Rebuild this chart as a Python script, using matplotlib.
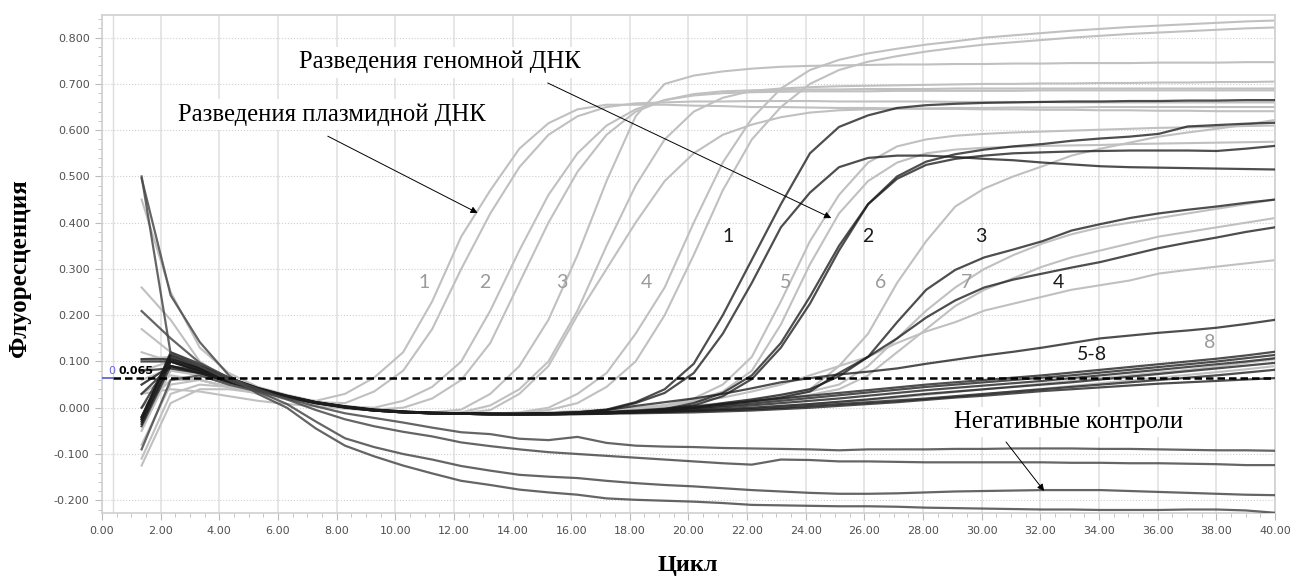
import numpy as np
import matplotlib.pyplot as plt
from matplotlib.ticker import MultipleLocator, FormatStrFormatter

# циклы (положение точек на оси X)
cycles = np.linspace(1.35, 40, 40)

# разведения плазмидной ДНК (светло-серые кривые)
L1 = [0.26,0.19,0.10,0.06,0.035,0.02,0.015,0.03,0.065,0.12,
      0.23,0.37,0.47,0.56,0.615,0.645,0.655,0.655,0.655,0.653,
      0.652,0.65,0.65,0.649,0.648,0.648,0.647,0.646,0.646,0.645,
      0.645,0.644,0.644,0.643,0.643,0.642,0.642,0.641,0.641,0.641]
L2 = [0.17,0.12,0.09,0.06,0.04,0.025,0.012,0.01,0.035,0.08,
      0.17,0.30,0.42,0.52,0.59,0.63,0.65,0.658,0.66,0.662,
      0.662,0.663,0.663,0.663,0.662,0.662,0.662,0.662,0.661,0.661,
      0.661,0.661,0.66,0.66,0.66,0.66,0.66,0.66,0.66,0.66]
L3 = [0.105,0.11,0.085,0.06,0.04,0.025,0.012,0.003,0.0,0.015,
      0.045,0.10,0.21,0.34,0.46,0.55,0.61,0.645,0.665,0.675,
      0.68,0.682,0.683,0.684,0.684,0.684,0.685,0.685,0.685,0.685,
      0.685,0.686,0.686,0.686,0.686,0.686,0.686,0.686,0.686,0.686]
L4 = [0.08,0.10,0.08,0.06,0.04,0.025,0.012,0.003,-0.004,0.0,
      0.02,0.06,0.14,0.27,0.40,0.51,0.59,0.64,0.665,0.678,
      0.684,0.686,0.687,0.688,0.688,0.689,0.689,0.689,0.69,0.69,
      0.69,0.69,0.69,0.69,0.69,0.69,0.69,0.69,0.69,0.69]
L5 = [-0.02,0.11,0.08,0.055,0.035,0.022,0.01,0.0,-0.006,-0.01,
      -0.01,-0.004,0.03,0.09,0.19,0.33,0.49,0.63,0.70,0.718,
      0.727,0.733,0.737,0.739,0.74,0.741,0.742,0.742,0.743,0.743,
      0.744,0.744,0.745,0.745,0.745,0.746,0.746,0.746,0.747,0.747]
L6 = [0.05,0.09,0.07,0.05,0.035,0.02,0.01,0.0,-0.006,-0.01,
      -0.012,-0.01,0.005,0.04,0.10,0.21,0.35,0.48,0.58,0.64,
      0.67,0.685,0.69,0.693,0.695,0.696,0.697,0.698,0.699,0.70,
      0.70,0.701,0.701,0.702,0.702,0.703,0.703,0.704,0.704,0.705]
L7 = [-0.03,0.10,0.075,0.055,0.035,0.022,0.01,0.0,-0.006,-0.01,
      -0.012,-0.012,-0.005,0.03,0.09,0.20,0.30,0.40,0.49,0.55,
      0.59,0.612,0.628,0.638,0.643,0.645,0.646,0.647,0.648,0.648,
      0.649,0.649,0.649,0.65,0.65,0.65,0.65,0.65,0.65,0.65]
L8 = [0.03,0.07,0.06,0.045,0.03,0.018,0.008,0.0,-0.006,-0.01,
      -0.012,-0.013,-0.013,-0.01,0.0,0.03,0.075,0.16,0.26,0.40,
      0.53,0.625,0.69,0.73,0.752,0.766,0.776,0.785,0.792,0.80,
      0.805,0.81,0.815,0.819,0.823,0.826,0.829,0.832,0.835,0.837]
L9 = [-0.05,0.08,0.07,0.05,0.035,0.02,0.01,0.0,-0.006,-0.01,
      -0.012,-0.013,-0.013,-0.012,-0.005,0.01,0.045,0.10,0.20,0.33,
      0.47,0.58,0.65,0.70,0.73,0.748,0.76,0.77,0.778,0.785,
      0.79,0.795,0.80,0.804,0.808,0.811,0.814,0.817,0.82,0.822]
L10 = [-0.11,0.03,0.05,0.045,0.035,0.022,0.01,0.0,-0.006,-0.01,
       -0.012,-0.013,-0.014,-0.014,-0.013,-0.012,-0.01,-0.005,0.005,0.02,
       0.05,0.11,0.23,0.36,0.46,0.53,0.565,0.58,0.588,0.592,
       0.595,0.597,0.599,0.601,0.603,0.605,0.606,0.607,0.609,0.61]
L11 = [-0.125,0.01,0.04,0.04,0.032,0.02,0.01,0.0,-0.006,-0.01,
       -0.012,-0.013,-0.014,-0.014,-0.013,-0.012,-0.01,-0.006,0.002,0.015,
       0.035,0.08,0.18,0.31,0.42,0.49,0.53,0.55,0.558,0.562,
       0.564,0.566,0.567,0.568,0.57,0.571,0.572,0.573,0.574,0.575]
L12 = [0.45,0.25,0.13,0.075,0.045,0.028,0.014,0.004,-0.003,-0.008,
       -0.011,-0.012,-0.013,-0.013,-0.012,-0.01,-0.007,-0.004,0.0,0.005,
       0.01,0.017,0.025,0.04,0.09,0.16,0.27,0.36,0.435,0.474,
       0.50,0.522,0.545,0.56,0.573,0.586,0.595,0.603,0.612,0.622]
L13 = [0.12,0.10,0.08,0.055,0.037,0.022,0.01,0.001,-0.005,-0.009,
       -0.011,-0.012,-0.013,-0.013,-0.012,-0.011,-0.009,-0.006,-0.002,0.003,
       0.009,0.016,0.024,0.035,0.05,0.09,0.15,0.21,0.26,0.30,
       0.33,0.355,0.375,0.39,0.40,0.41,0.42,0.43,0.44,0.45]
L14 = [0.06,0.085,0.07,0.052,0.035,0.021,0.01,0.0,-0.006,-0.01,
       -0.012,-0.013,-0.013,-0.013,-0.012,-0.011,-0.009,-0.006,-0.003,0.001,
       0.006,0.012,0.019,0.028,0.04,0.07,0.12,0.17,0.22,0.255,
       0.28,0.305,0.325,0.34,0.355,0.37,0.38,0.39,0.40,0.41]
L15 = [0.03,0.04,0.035,0.025,0.015,0.008,0.003,-0.002,-0.006,-0.01,
       -0.012,-0.013,-0.013,-0.012,-0.01,-0.007,-0.004,0.0,0.006,0.013,
       0.022,0.035,0.05,0.07,0.09,0.11,0.14,0.165,0.185,0.21,
       0.225,0.24,0.255,0.265,0.275,0.29,0.298,0.305,0.312,0.319]
L16 = [-0.08,0.05,0.06,0.045,0.032,0.02,0.009,0.0,-0.006,-0.01,
       -0.012,-0.013,-0.014,-0.014,-0.013,-0.012,-0.01,-0.008,-0.006,-0.004,
       -0.002,0.0,0.004,0.008,0.012,0.017,0.022,0.028,0.034,0.04,
       0.046,0.052,0.058,0.064,0.07,0.076,0.082,0.089,0.097,0.105]
L17 = [0.0,0.06,0.06,0.045,0.032,0.02,0.009,0.0,-0.006,-0.01,
       -0.012,-0.013,-0.014,-0.015,-0.015,-0.014,-0.012,-0.01,-0.009,-0.007,
       -0.005,-0.003,0.0,0.003,0.007,0.01,0.014,0.019,0.024,0.029,
       0.035,0.041,0.047,0.053,0.059,0.065,0.071,0.077,0.083,0.09]
plasmid = [L1, L2, L3, L4, L5, L6, L7, L8, L9, L10, L11, L12, L13, L14, L15, L16, L17]

# разведения геномной ДНК (тёмные кривые)
G1a = [-0.02,0.11,0.085,0.06,0.04,0.025,0.012,0.003,-0.004,-0.008,
       -0.011,-0.012,-0.013,-0.013,-0.012,-0.01,-0.004,0.012,0.04,0.095,
       0.20,0.32,0.44,0.55,0.607,0.632,0.648,0.654,0.657,0.659,
       0.66,0.661,0.662,0.662,0.663,0.663,0.664,0.664,0.665,0.665]
G1b = [-0.03,0.10,0.08,0.06,0.04,0.024,0.011,0.002,-0.005,-0.009,
       -0.011,-0.012,-0.013,-0.013,-0.012,-0.01,-0.005,0.01,0.032,0.075,
       0.16,0.27,0.39,0.465,0.52,0.54,0.545,0.545,0.542,0.538,
       0.535,0.53,0.526,0.522,0.52,0.519,0.518,0.517,0.516,0.515]
G2a = [-0.025,0.12,0.095,0.065,0.042,0.026,0.012,0.003,-0.004,-0.008,
       -0.011,-0.012,-0.013,-0.014,-0.014,-0.013,-0.012,-0.01,-0.004,0.005,
       0.025,0.062,0.13,0.225,0.34,0.44,0.50,0.532,0.548,0.558,
       0.565,0.57,0.577,0.582,0.586,0.592,0.608,0.611,0.614,0.616]
G2b = [-0.04,0.09,0.075,0.055,0.038,0.024,0.011,0.002,-0.005,-0.009,
       -0.012,-0.013,-0.014,-0.014,-0.014,-0.013,-0.012,-0.009,-0.003,0.01,
       0.032,0.07,0.14,0.24,0.35,0.44,0.495,0.525,0.538,0.545,
       0.55,0.552,0.554,0.555,0.556,0.556,0.556,0.555,0.56,0.566]
G3 = [0.1,0.1,0.08,0.058,0.038,0.023,0.01,0.001,-0.005,-0.009,
      -0.012,-0.013,-0.014,-0.014,-0.013,-0.012,-0.01,-0.008,-0.004,0.0,
      0.01,0.018,0.028,0.04,0.068,0.11,0.185,0.255,0.298,0.325,
      0.342,0.36,0.383,0.397,0.41,0.42,0.428,0.435,0.443,0.45]
G4 = [0.05,0.09,0.075,0.055,0.037,0.022,0.01,0.0,-0.006,-0.01,
      -0.012,-0.013,-0.014,-0.014,-0.013,-0.012,-0.01,-0.008,-0.004,0.0,
      0.007,0.014,0.022,0.035,0.075,0.11,0.15,0.195,0.232,0.26,
      0.277,0.29,0.303,0.315,0.33,0.345,0.357,0.368,0.38,0.39]
G5 = [0.105,0.105,0.085,0.06,0.04,0.024,0.011,0.002,-0.005,-0.009,
      -0.011,-0.012,-0.013,-0.013,-0.012,-0.01,-0.005,0.004,0.012,0.02,
      0.03,0.042,0.055,0.064,0.072,0.078,0.085,0.095,0.104,0.113,
      0.121,0.13,0.14,0.15,0.156,0.162,0.167,0.173,0.181,0.19]
G6 = [-0.025,0.115,0.09,0.065,0.042,0.025,0.012,0.002,-0.005,-0.009,
      -0.011,-0.012,-0.013,-0.013,-0.012,-0.011,-0.009,-0.006,-0.002,0.003,
      0.008,0.014,0.02,0.026,0.032,0.038,0.044,0.05,0.055,0.06,
      0.065,0.07,0.076,0.082,0.088,0.094,0.10,0.106,0.113,0.121]
G7 = [0.0,0.105,0.085,0.06,0.04,0.024,0.011,0.002,-0.005,-0.009,
      -0.011,-0.012,-0.013,-0.013,-0.012,-0.011,-0.01,-0.008,-0.005,-0.001,
      0.004,0.009,0.015,0.021,0.027,0.033,0.039,0.045,0.05,0.055,
      0.06,0.065,0.07,0.076,0.082,0.088,0.094,0.10,0.107,0.114]
G8 = [-0.035,0.10,0.08,0.058,0.038,0.023,0.01,0.001,-0.006,-0.01,
      -0.012,-0.013,-0.014,-0.014,-0.013,-0.012,-0.01,-0.008,-0.006,-0.003,
      0.001,0.005,0.01,0.015,0.02,0.026,0.032,0.038,0.043,0.048,
      0.053,0.058,0.064,0.07,0.076,0.082,0.088,0.094,0.10,0.107]
G9 = [0.03,0.09,0.08,0.06,0.04,0.024,0.011,0.001,-0.006,-0.01,
      -0.012,-0.013,-0.014,-0.014,-0.014,-0.013,-0.011,-0.01,-0.008,-0.006,
      -0.003,0.0,0.004,0.008,0.013,0.018,0.024,0.03,0.035,0.04,
      0.045,0.05,0.055,0.061,0.067,0.073,0.079,0.085,0.091,0.097]
G10 = [-0.02,0.115,0.09,0.065,0.043,0.026,0.012,0.002,-0.005,-0.009,
       -0.012,-0.013,-0.014,-0.014,-0.014,-0.013,-0.012,-0.01,-0.009,-0.007,
       -0.005,-0.003,0.0,0.004,0.008,0.012,0.016,0.02,0.025,0.03,
       0.035,0.04,0.045,0.05,0.055,0.06,0.065,0.07,0.076,0.082]
G11 = [0.08,0.085,0.075,0.06,0.04,0.024,0.011,0.001,-0.006,-0.01,
       -0.012,-0.013,-0.014,-0.015,-0.015,-0.014,-0.013,-0.012,-0.011,-0.01,
       -0.008,-0.006,-0.003,0.0,0.004,0.008,0.012,0.017,0.022,0.026,
       0.031,0.036,0.04,0.044,0.048,0.052,0.055,0.058,0.061,0.064]
genomic = [G1a, G1b, G2a, G2b, G3, G4, G5, G6, G7, G8, G9, G10, G11]

# негативные контроли
N1 = [-0.09,0.06,0.07,0.05,0.035,0.02,0.003,-0.012,-0.022,-0.032,
      -0.043,-0.053,-0.057,-0.067,-0.07,-0.063,-0.076,-0.082,-0.084,-0.085,
      -0.087,-0.088,-0.089,-0.09,-0.092,-0.09,-0.09,-0.09,-0.089,-0.089,
      -0.088,-0.088,-0.088,-0.089,-0.089,-0.09,-0.091,-0.092,-0.092,-0.093]
N2 = [0.209,0.15,0.097,0.065,0.04,0.018,-0.005,-0.025,-0.04,-0.052,
      -0.062,-0.075,-0.083,-0.09,-0.096,-0.10,-0.104,-0.108,-0.112,-0.116,
      -0.12,-0.123,-0.112,-0.113,-0.116,-0.116,-0.117,-0.118,-0.118,-0.118,
      -0.118,-0.118,-0.119,-0.119,-0.12,-0.12,-0.121,-0.122,-0.124,-0.124]
N3 = [0.5,0.117,0.09,0.06,0.035,0.008,-0.03,-0.066,-0.085,-0.10,
      -0.112,-0.126,-0.136,-0.145,-0.149,-0.152,-0.158,-0.163,-0.167,-0.17,
      -0.174,-0.178,-0.181,-0.184,-0.186,-0.186,-0.185,-0.183,-0.181,-0.18,
      -0.179,-0.178,-0.178,-0.178,-0.18,-0.182,-0.184,-0.186,-0.188,-0.189]
N4 = [0.496,0.243,0.142,0.07,0.03,0.0,-0.045,-0.082,-0.105,-0.125,
      -0.142,-0.158,-0.167,-0.177,-0.183,-0.188,-0.196,-0.199,-0.201,-0.203,
      -0.206,-0.21,-0.211,-0.212,-0.213,-0.213,-0.214,-0.216,-0.217,-0.218,
      -0.219,-0.22,-0.22,-0.221,-0.221,-0.221,-0.22,-0.22,-0.222,-0.227]
negatives = [N1, N2, N3, N4]

threshold = 0.065

# подписи номеров разведений
light_labels = ["1", "2", "3", "4", "5", "6", "7", "8"]
light_pos = [(10.99, 0.27), (13.05, 0.27), (15.67, 0.27), (18.57, 0.27),
             (23.3, 0.27), (26.54, 0.27), (29.47, 0.27), (37.79, 0.142)]
dark_labels = ["1", "2", "3", "4", "5-8"]
dark_pos = [(21.36, 0.371), (26.13, 0.371), (29.98, 0.371), (32.6, 0.271), (33.77, 0.116)]

fig = plt.figure(figsize=(12.93, 5.76), dpi=100)
ax = fig.add_axes([0.0789, 0.109, 0.9071, 0.865])

for y in plasmid:
    ax.plot(cycles, y, color="#c0c0c0", lw=1.5, zorder=2)
for y in genomic:
    ax.plot(cycles, y, color="#1c1c1c", lw=1.6, alpha=0.78, zorder=3)
for y in negatives:
    ax.plot(cycles, y, color="#4a4a4a", lw=1.6, alpha=0.85, zorder=3)

ax.axhline(threshold, xmin=0.37 / 40, color="black", lw=1.8, ls=(0, (3, 1.6)), zorder=5)
ax.plot([0, 0.37], [threshold, threshold], color="#5555dd", lw=1.2, zorder=5)
ax.text(0.2, threshold + 0.004, "0", color="#6666dd", fontsize=8, va="bottom", zorder=6)
ax.text(0.55, threshold + 0.004, "0.065", color="black", fontsize=8,
        fontweight="bold", va="bottom", zorder=6)
ax.axvline(0.37, color="#dddddd", lw=1.0, zorder=1)

ax.set_xlim(0, 40)
ax.set_ylim(-0.228, 0.849)
ax.xaxis.set_major_locator(MultipleLocator(2))
ax.xaxis.set_minor_locator(MultipleLocator(0.5))
ax.yaxis.set_major_locator(MultipleLocator(0.1))
ax.yaxis.set_minor_locator(MultipleLocator(0.02))
ax.xaxis.set_major_formatter(FormatStrFormatter("%.2f"))
ax.yaxis.set_major_formatter(FormatStrFormatter("%.3f"))
ax.grid(True, axis="x", which="major", color="#e2e2e2", lw=1.2, zorder=0)
ax.grid(True, axis="y", which="major", color="#cfcfcf", lw=0.8, ls=":", zorder=0)
ax.tick_params(which="both", colors="#bbbbbb", labelcolor="#505050", labelsize=8)
ax.tick_params(which="major", length=5, pad=4)
ax.tick_params(which="minor", length=3)
for s in ax.spines.values():
    s.set_color("#d0d0d0")
    s.set_linewidth(1.2)

box = dict(facecolor="white", edgecolor="none", pad=3)
ax.text(11.52, 0.747, "Разведения геномной ДНК", family="Liberation Serif",
        fontsize=17.7, ha="center", va="center", bbox=box, zorder=7)
ax.text(7.84, 0.633, "Разведения плазмидной ДНК", family="Liberation Serif",
        fontsize=17.7, ha="center", va="center", bbox=box, zorder=7)
ax.text(32.95, -0.031, "Негативные контроли", family="Liberation Serif",
        fontsize=17.7, ha="center", va="center", bbox=box, zorder=7)
arrow = dict(arrowstyle="-|>", color="black", lw=0.7, mutation_scale=10, shrinkA=0, shrinkB=0)
ax.annotate("", xy=(24.87, 0.41), xytext=(15.2, 0.702), arrowprops=arrow, zorder=8)
ax.annotate("", xy=(12.81, 0.421), xytext=(7.7, 0.587), arrowprops=arrow, zorder=8)
ax.annotate("", xy=(32.13, -0.18), xytext=(30.83, -0.074), arrowprops=arrow, zorder=8)

for t, (x, y) in zip(light_labels, light_pos):
    ax.text(x, y, t, family="Lato", fontsize=14, color="#9a9a9a",
            ha="center", va="center", zorder=7)
for t, (x, y) in zip(dark_labels, dark_pos):
    ax.text(x, y, t, family="Lato", fontsize=14, color="#1a1a1a",
            ha="center", va="center", zorder=7)

fig.text(20 / 1293, 1 - 268 / 576, "Флуоресценция", family="Liberation Serif",
         fontsize=18, fontweight="bold", rotation=90, ha="center", va="center")
fig.text(688 / 1293, 1 - 565 / 576, "Цикл", family="Liberation Serif",
         fontsize=17.5, fontweight="bold", ha="center", va="center")

fig.savefig("out.png", dpi=100)
